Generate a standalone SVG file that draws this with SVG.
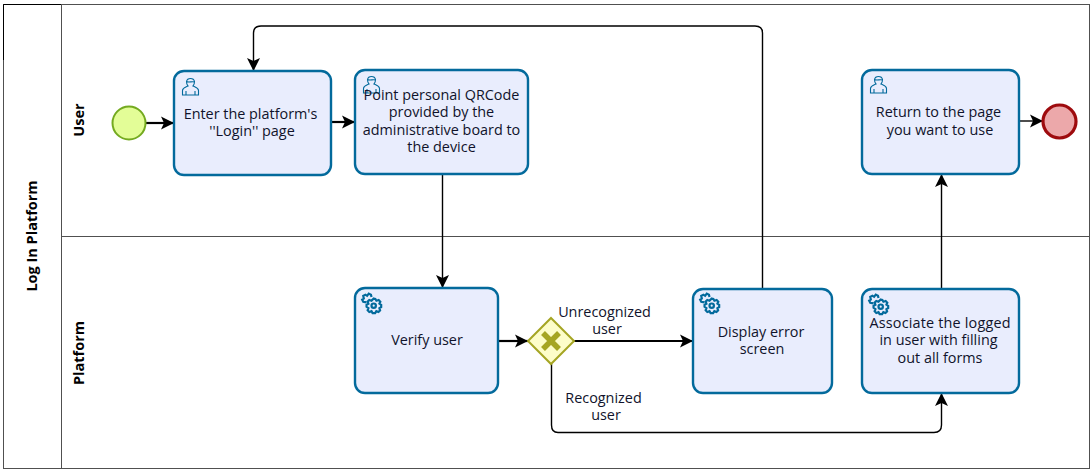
<svg xmlns="http://www.w3.org/2000/svg" width="1092" height="470" viewBox="0 0 1092 470">
<style>
text{font-family:"Open Sans","Noto Sans","Liberation Sans",sans-serif;font-size:14.4px;fill:#10132b;text-anchor:middle}
.h{font-family:"Open Sans","Liberation Sans",sans-serif;font-weight:bold;font-size:14.5px;fill:#000}
.pool{fill:none;stroke:#505050;stroke-width:1}
.task{fill:#e9edfd;stroke:#036a9c;stroke-width:2.4}
.c{fill:none;stroke:#000;stroke-width:1.4}
.t{fill:none;stroke:#000;stroke-width:2.2}
.ic{fill:none;stroke:#036a9c;stroke-width:1.1}
.gear{fill:none;stroke:#036a9c;stroke-width:2}
</style>
<defs>
<marker id="a" markerUnits="userSpaceOnUse" markerWidth="14" markerHeight="14" refX="13" refY="7" orient="auto"><path d="M0,0.5 L13,7 L0,13.5 L3,7 Z" fill="#000"/></marker>
<g id="user"><path class="ic" d="M0.5,17 V12.5 C0.5,10 3,9.5 6,8 C4.5,6.5 4.5,4.5 4.5,3.5 C5,1 7,0.5 8.5,0.5 C10,0.5 12,1 12.5,3.5 C12.5,4.5 12.5,6.5 11,8 C14,9.5 16.500,10 16.500,12.500 V17 Z M4,17 V13 M13,17 V13 M4.500,3.500 C7,5 10,3 12.500,4"/></g>
<g id="gear"><g transform="translate(-0.500,-0.500) scale(1.1)"><circle class="gear" cx="12" cy="12" r="2"/><path class="gear" d="M12,5.500 L13.500,5.800 L14.500,7.500 L16.500,6.800 L18,8.300 L17.200,10.200 L18.800,11.300 V13.200 L17.200,14.200 L17.800,16.200 L16.300,17.700 L14.400,17 L13.300,18.700 H11 L10,17 L8,17.700 L6.500,16.200 L7.200,14.200 L5.500,13 V11.200 L7.200,10.200 L6.500,8.300 L8,6.800 L10,7.500 Z"/><path class="gear" d="M5.500,9 L2.500,8.500 L1.500,6.500 L3,5.500 L2.500,3 L4.500,2 L6,3 L7.500,1 L9.500,2 L10,4"/></g></g>
</defs>
<g id="pool">
<rect class="pool" x="3.500" y="4.500" width="1086" height="464"/>
<line class="pool" x1="61.500" y1="4.500" x2="61.500" y2="468.500"/>
<line class="pool" x1="61.500" y1="236.500" x2="1089.500" y2="236.500"/>
<path d="M3.500,60 V4.500 H61" fill="none" stroke="#000" stroke-width="1"/>
<text class="h" transform="translate(37,236) rotate(-90)">Log In Platform</text>
<text class="h" transform="translate(84,120) rotate(-90)">User</text>
<text class="h" transform="translate(84,353) rotate(-90)">Platform</text>
</g>
<g id="connectors">
<path class="t" d="M146,123 H174" marker-end="url(#a)"/>
<path class="t" d="M331,122 H355" marker-end="url(#a)"/>
<path class="c" d="M762.500,288 V33 Q762.500,26 755,26 H261 Q253.500,26 253.500,33 V71" marker-end="url(#a)"/>
<path class="c" d="M442.500,175 V288" marker-end="url(#a)"/>
<path class="t" d="M498,341 H528" marker-end="url(#a)"/>
<path class="t" d="M574,341 H693" marker-end="url(#a)"/>
<path class="c" d="M551.500,364 V425 Q551.500,432.500 558,432.500 H934 Q941.500,432.500 941.500,425 V393" marker-end="url(#a)"/>
<path class="c" d="M941.500,288 V174" marker-end="url(#a)"/>
<path class="c" d="M1019,121 H1043" marker-end="url(#a)"/>
</g>
<g id="start"><circle cx="129" cy="123" r="16.500" fill="#e3fd97" stroke="#74aa20" stroke-width="2"/></g>
<g id="task-login"><rect class="task" x="174" y="71" width="157" height="104" rx="10"/><use href="#user" x="182" y="78"/><text x="250.500" y="119">Enter the platform's</text><text x="252" y="136">''Login'' page</text></g>
<g id="task-qr"><rect class="task" x="355" y="70" width="173" height="104" rx="10"/><use href="#user" x="363" y="76"/><text x="441.500" y="100">Point personal QRCode</text><text x="441.500" y="117">provided by the</text><text x="441.500" y="135">administrative board to</text><text x="441.500" y="152">the device</text></g>
<g id="task-return"><rect class="task" x="862" y="70" width="157" height="104" rx="10"/><use href="#user" x="870" y="76"/><text x="938.500" y="117">Return to the page</text><text x="940" y="135">you want to use</text></g>
<g id="end"><circle cx="1059.500" cy="121.500" r="16.500" fill="#eca8aa" stroke="#9e0b0e" stroke-width="3.200"/></g>
<g id="task-verify"><rect class="task" x="355" y="288" width="143" height="105" rx="10"/><use href="#gear" x="361" y="293"/><text x="427" y="345">Verify user</text></g>
<g id="gateway"><path d="M551,318 L574,341 L551,364 L528,341 Z" fill="#fdfdc9" stroke="#a5a523" stroke-width="2"/><path d="M543,333 L559,349 M559,333 L543,349" stroke="#a5a523" stroke-width="5.500" fill="none"/></g>
<g id="task-error"><rect class="task" x="693" y="289" width="139" height="104" rx="10"/><use href="#gear" x="699" y="293"/><text x="761" y="337">Display error</text><text x="762" y="354">screen</text></g>
<g id="task-associate"><rect class="task" x="862" y="289" width="157" height="104" rx="10"/><use href="#gear" x="868" y="294"/><text x="940" y="328" textLength="141">Associate the logged</text><text x="938.500" y="345">in user with filling</text><text x="940" y="363">out all forms</text></g>
<g id="labels"><text x="604.500" y="317">Unrecognized</text><text x="607" y="334">user</text><text x="603.500" y="403">Recognized</text><text x="606" y="420">user</text></g>
</svg>
